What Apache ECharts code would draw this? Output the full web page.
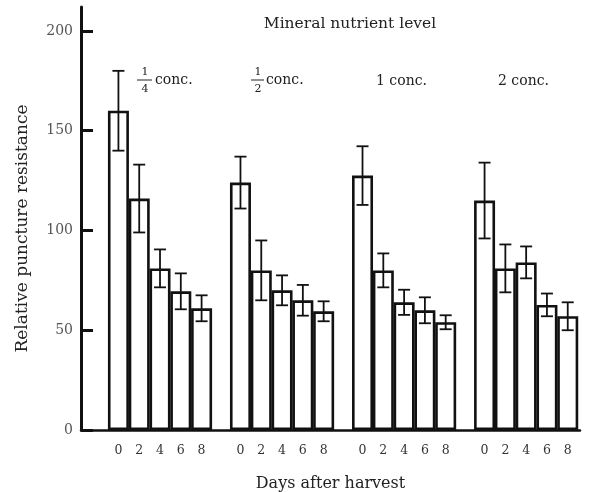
<!DOCTYPE html>
<html><head><meta charset="utf-8">
<script src="https://cdn.jsdelivr.net/npm/echarts@6/dist/echarts.min.js"></script>
<style>html,body{margin:0;padding:0;background:#fff}#c{width:595px;height:492px}</style>
</head><body><div id="c"></div>
<script>
// ---- data ----
var groups = ['1/4 conc.', '1/2 conc.', '1 conc.', '2 conc.'];
var days = ['0', '2', '4', '6', '8'];
var quarterConc = [160, 116, 81, 69.5, 61];
var quarterErr  = [20, 17, 9.5, 9, 6.5];
var halfConc    = [124, 80, 70, 65, 59.5];
var halfErr     = [13, 15, 7.5, 7.7, 5];
var oneConc     = [127.5, 80, 64, 60, 54];
var oneErr      = [14.7, 8.5, 6.3, 6.5, 3.5];
var twoConc     = [115, 81, 84, 62.7, 57];
var twoErr      = [19, 12, 8, 5.7, 7];
var yTicks = [0, 50, 100, 150, 200];

var values = [quarterConc, halfConc, oneConc, twoConc];
var errs = [quarterErr, halfErr, oneErr, twoErr];
var GROUP_STEP = 5.87; // spacing between groups in bar units

var barData = [], errData = [], xTickVals = [], xLabelMap = {};
values.forEach(function (arr, gi) {
  arr.forEach(function (v, di) {
    var x = gi * GROUP_STEP + di;
    barData.push([x, v]);
    errData.push([x, v - errs[gi][di], v + errs[gi][di]]);
    xTickVals.push(x);
    xLabelMap[x.toFixed(2)] = days[di];
  });
});

var serif = 'DejaVu Serif';
var F = function (px) { return px + 'px "DejaVu Serif"'; };
var chart = echarts.init(document.getElementById('c'));
chart.setOption({
  animation: false,
  backgroundColor: '#fff',
  grid: { left: 81, right: 15, top: 7, bottom: 62, containLabel: false, outerBoundsMode: 'none' },
  xAxis: {
    type: 'value', min: -1.8, max: 22.2,
    splitLine: { show: false },
    axisLine: { show: true, onZero: false, lineStyle: { color: '#111', width: 2.5 } },
    axisTick: { show: false },
    axisLabel: {
      customValues: xTickVals,
      formatter: function (v) { return xLabelMap[v.toFixed(2)] || ''; },
      fontFamily: serif, fontSize: 12.5, color: '#333', margin: 14
    },
    name: 'Days after harvest', nameLocation: 'middle', nameGap: 46,
    nameTextStyle: { fontFamily: serif, fontSize: 16, color: '#222' }
  },
  yAxis: {
    type: 'value', min: 0, max: 212,
    splitLine: { show: false },
    axisLine: { show: true, onZero: false, lineStyle: { color: '#111', width: 3 } },
    axisTick: { show: true, inside: true, length: 12, customValues: yTicks, lineStyle: { color: '#111', width: 3 } },
    axisLabel: { customValues: yTicks, fontFamily: serif, fontSize: 14, color: '#555', margin: 8 },
    name: 'Relative puncture resistance', nameLocation: 'middle', nameGap: 50, nameRotate: 90,
    nameTextStyle: { fontFamily: serif, fontSize: 17, color: '#222', padding: [0, 20, 0, 0] }
  },
  series: [
    {
      type: 'bar', data: barData, barWidth: 21, z: 2,
      itemStyle: { color: '#fff', borderColor: '#111', borderWidth: 2.6 }
    },
    {
      type: 'custom', data: errData, z: 3,
      renderItem: function (params, api) {
        var x = api.value(0);
        var lo = api.coord([x, api.value(1)]);
        var hi = api.coord([x, api.value(2)]);
        var cap = 6;
        var st = { stroke: '#111', lineWidth: 1.8 };
        return { type: 'group', children: [
          { type: 'line', shape: { x1: lo[0], y1: lo[1], x2: hi[0], y2: hi[1] }, style: st },
          { type: 'line', shape: { x1: hi[0] - cap, y1: hi[1], x2: hi[0] + cap, y2: hi[1] }, style: st },
          { type: 'line', shape: { x1: lo[0] - cap, y1: lo[1], x2: lo[0] + cap, y2: lo[1] }, style: st }
        ]};
      }
    }
  ],
  graphic: [
    { type: 'text', x: 350, y: 24, style: { text: 'Mineral nutrient level', font: F(15.5), fill: '#222', align: 'center', verticalAlign: 'middle' } },
    // 1/4 conc.
    { type: 'text', x: 145, y: 72, style: { text: '1', font: F(11), fill: '#222', align: 'center', verticalAlign: 'middle' } },
    { type: 'line', shape: { x1: 137, y1: 80, x2: 152, y2: 80 }, style: { stroke: '#222', lineWidth: 1 } },
    { type: 'text', x: 145, y: 89, style: { text: '4', font: F(11), fill: '#222', align: 'center', verticalAlign: 'middle' } },
    { type: 'text', x: 155, y: 80, style: { text: 'conc.', font: F(14), fill: '#222', verticalAlign: 'middle' } },
    // 1/2 conc.
    { type: 'text', x: 258, y: 72, style: { text: '1', font: F(11), fill: '#222', align: 'center', verticalAlign: 'middle' } },
    { type: 'line', shape: { x1: 251, y1: 80, x2: 264, y2: 80 }, style: { stroke: '#222', lineWidth: 1 } },
    { type: 'text', x: 258, y: 89, style: { text: '2', font: F(11), fill: '#222', align: 'center', verticalAlign: 'middle' } },
    { type: 'text', x: 266, y: 80, style: { text: 'conc.', font: F(14), fill: '#222', verticalAlign: 'middle' } },
    // 1 conc.
    { type: 'text', x: 376, y: 81, style: { text: '1 conc.', font: F(14), fill: '#222', verticalAlign: 'middle' } },
    // 2 conc.
    { type: 'text', x: 498, y: 81, style: { text: '2 conc.', font: F(14), fill: '#222', verticalAlign: 'middle' } }
  ]
});
</script>
</body></html>
